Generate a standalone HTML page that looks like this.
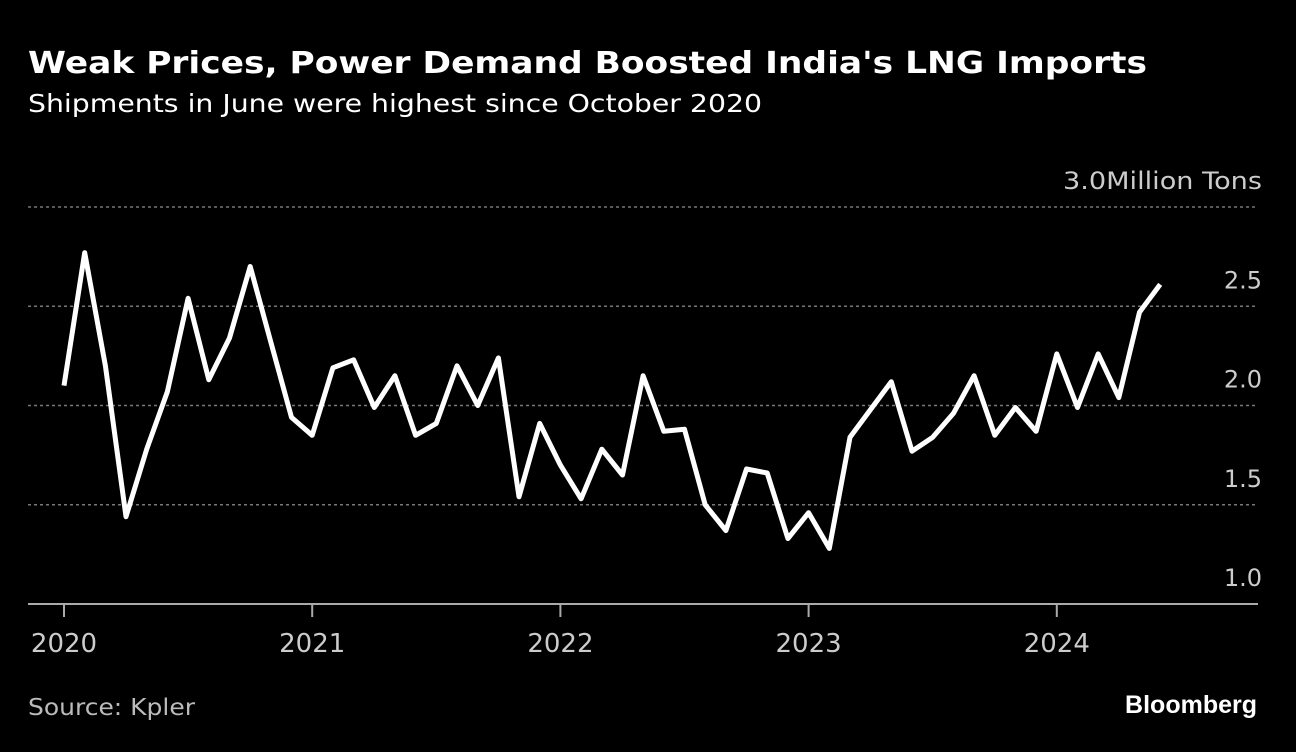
<!DOCTYPE html>
<html><head><meta charset="utf-8"><style>
body{margin:0;background:#000;width:1296px;height:748px;overflow:hidden;font-family:"DejaVu Sans","Liberation Sans",sans-serif;color:#fff}
</style></head><body>
<svg width="1296" height="748">
<text x="28" y="73" font-size="30" font-weight="bold" fill="#fff" textLength="1119" lengthAdjust="spacingAndGlyphs">Weak Prices, Power Demand Boosted India's LNG Imports</text>
<text x="28" y="112" font-size="25" fill="#fff" textLength="734" lengthAdjust="spacingAndGlyphs">Shipments in June were highest since October 2020</text>
<g id="grid"></g>
<g id="xaxis"></g>
<path id="line" fill="none" stroke="#fff" stroke-width="5" stroke-linejoin="round"/>
<text x="28" y="715" font-size="23" fill="#bbb" textLength="167" lengthAdjust="spacingAndGlyphs">Source: Kpler</text>
<text x="1257" y="713" font-size="25" font-weight="bold" fill="#fff" text-anchor="end" font-family="Liberation Sans">Bloomberg</text>
</svg>
<script>
const yTicks=[1.0,1.5,2.0,2.5,3.0];
const yearLabels=["2020","2021","2022","2023","2024"];
const values=[2.10,2.77,2.20,1.44,1.78,2.07,2.54,2.13,2.34,2.70,2.32,1.94,
1.85,2.19,2.23,1.99,2.15,1.85,1.91,2.20,2.00,2.24,1.54,1.91,
1.70,1.53,1.78,1.65,2.15,1.87,1.88,1.50,1.37,1.68,1.66,1.33,
1.46,1.28,1.84,1.98,2.12,1.77,1.84,1.96,2.15,1.85,1.99,1.87,
2.26,1.99,2.26,2.04,2.47,2.61];
const ns="http://www.w3.org/2000/svg";
const y=v=>604-(v-1)*198.5;
const x=i=>64+i*(248.2/12);
const grid=document.getElementById('grid');
yTicks.forEach((t,k)=>{
  const l=document.createElementNS(ns,'line');
  
  
  l.setAttribute('x1',28);l.setAttribute('x2',1258);l.setAttribute('y1',y(t));l.setAttribute('y2',y(t));
  if(k===0){l.setAttribute('stroke','#aaa');l.setAttribute('stroke-width','2');}
  else{l.setAttribute('stroke','#777');l.setAttribute('stroke-width','1.5');l.setAttribute('stroke-dasharray','3,3');}
  grid.appendChild(l);
  const tx=document.createElementNS(ns,'text');
  
  
  tx.setAttribute('x',1262);tx.setAttribute('y',y(t)-18);tx.setAttribute('text-anchor','end');
  tx.setAttribute('font-size','24');tx.setAttribute('fill','#ccc');
  if(k===yTicks.length-1){tx.setAttribute('textLength','199');tx.setAttribute('lengthAdjust','spacingAndGlyphs');}
  tx.textContent=t.toFixed(1)+(k===yTicks.length-1?'Million Tons':'');
  grid.appendChild(tx);
});
const xa=document.getElementById('xaxis');
yearLabels.forEach((yr,k)=>{
  const xx=x(k*12);
  const l=document.createElementNS(ns,'line');
  
  
  l.setAttribute('x1',xx);l.setAttribute('x2',xx);l.setAttribute('y1',604);l.setAttribute('y2',617);
  l.setAttribute('stroke','#aaa');l.setAttribute('stroke-width','2');
  xa.appendChild(l);
  const tx=document.createElementNS(ns,'text');
  
  
  tx.setAttribute('x',xx);tx.setAttribute('y',652);tx.setAttribute('text-anchor','middle');
  tx.setAttribute('font-size','26');tx.setAttribute('fill','#ccc');
  tx.textContent=yr;
  xa.appendChild(tx);
});
document.getElementById('line').setAttribute('d',values.map((v,i)=>(i?'L':'M')+x(i).toFixed(1)+','+y(v).toFixed(1)).join(''));
</script>
</body></html>
